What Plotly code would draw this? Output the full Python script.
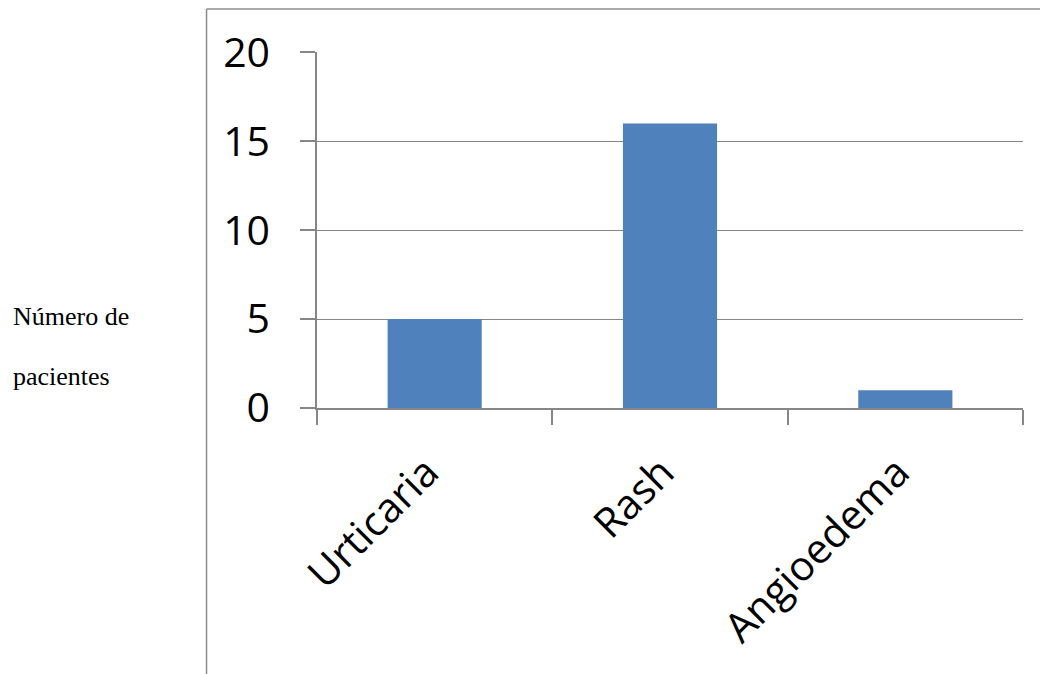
import plotly.graph_objects as go

categories = ["Urticaria", "Rash", "Angioedema"]
values = [5, 16, 1]
y_ticks = [0, 5, 10, 15, 20]

W, H = 1040, 674
L, R, T, B = 316.5, 1022.7, 52, 408  # plot area in pixels

def px_x(p):
    return (p - L) / (R - L)

def px_y(p):
    return (B - p) / (B - T)

grid = "#878787"

fig = go.Figure(go.Bar(x=categories, y=values, marker=dict(color="#4F81BD", line=dict(width=0))))

fig.update_layout(
    width=W, height=H,
    margin=dict(l=L, r=W - R, t=T, b=H - B, pad=0),
    paper_bgcolor="white", plot_bgcolor="white",
    bargap=0.6,
    showlegend=False,
    font=dict(family="Open Sans", size=41, color="black"),
)
fig.update_xaxes(
    type="category", range=[-0.5, 2.5],
    showline=True, linecolor=grid, linewidth=1.5,
    ticks="outside", tickson="boundaries", ticklen=15, tickcolor=grid, tickwidth=1.5,
    showgrid=False, tickangle=-45, ticklabelstandoff=22, ticklabelshift=-8,
    tickfont=dict(family="Open Sans", size=41, color="black"),
)
fig.update_yaxes(
    range=[0, 20.02], tickvals=y_ticks,
    showline=True, linecolor=grid, linewidth=1.5,
    ticks="outside", ticklen=15, tickcolor=grid, tickwidth=1.5,
    showgrid=True, gridcolor=grid, gridwidth=1.3, zeroline=False,
    ticklabelstandoff=22,
    tickfont=dict(family="Open Sans", size=41, color="black"),
)

# outer frame (top and left edges)
fig.add_shape(type="line", xref="paper", yref="paper",
              x0=px_x(206), x1=px_x(1045), y0=px_y(9), y1=px_y(9),
              line=dict(color="#8c8c8c", width=1.5))
fig.add_shape(type="line", xref="paper", yref="paper",
              x0=px_x(206), x1=px_x(206), y0=px_y(9), y1=px_y(680),
              line=dict(color="#8c8c8c", width=1.5))

for text, yc in [("Número de", 316), ("pacientes", 376)]:
    fig.add_annotation(text=text, xref="paper", yref="paper",
                       x=px_x(10), y=px_y(yc), xanchor="left", yanchor="middle",
                       showarrow=False,
                       font=dict(family="Liberation Serif", size=26, color="black"))

fig.write_html("out.html")
